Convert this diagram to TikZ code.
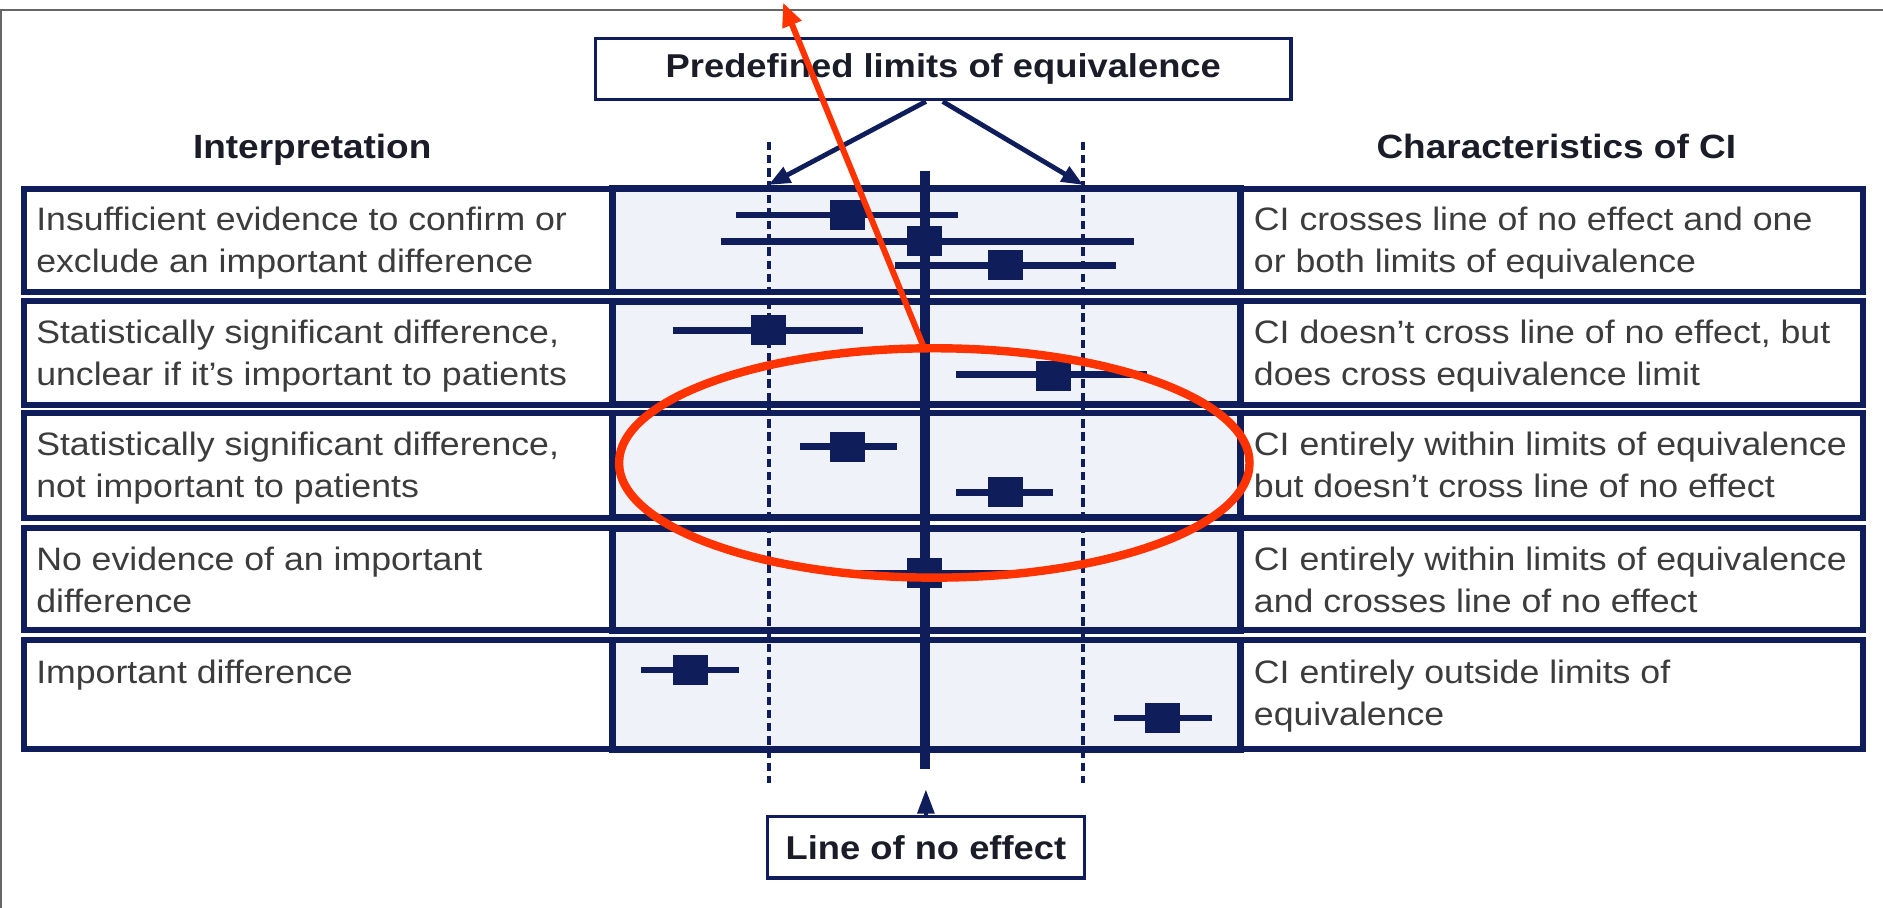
\documentclass[tikz,border=0pt]{standalone}
\usepackage{fontspec}
\setmainfont{Liberation Sans}[FakeStretch=1.1]
\usepackage{xcolor}
\usepackage{tikz}
\usetikzlibrary{arrows.meta}

\definecolor{navy}{RGB}{15,30,90}
\definecolor{lavender}{RGB}{240,242,250}
\definecolor{markred}{RGB}{255,51,0}
\definecolor{bodytext}{RGB}{60,60,60}
\definecolor{headtext}{RGB}{28,28,40}

\begin{document}
\begin{tikzpicture}[x=1pt,y=-1pt,
  cell/.style={draw=navy,line width=5pt,fill=white},
  plotcell/.style={draw=navy,line width=5.5pt,fill=lavender},
  rowtext/.style={anchor=base west,inner sep=0pt,align=left,text=bodytext,
    font=\fontsize{27}{35}\selectfont},
  head/.style={anchor=base,inner sep=0pt,text=headtext,font=\fontsize{28}{34}\selectfont\bfseries},
  labelbox/.style={draw=navy,line width=3pt,fill=white,inner sep=0pt,text=headtext,
    font=\fontsize{27.5}{34}\selectfont\bfseries},
  limit/.style={navy,line width=3.3pt,dash pattern=on 7pt off 4pt},
  ci/.style={draw=navy,line width=5.5pt},
  est/.style={fill=navy,minimum width=29pt,minimum height=25pt,inner sep=0pt},
  pointer/.style={navy,line width=4pt,-{Triangle[length=18pt,width=14pt]}}
]

\useasboundingbox (0,0) rectangle (1568,756);
\fill[white] (0,0) rectangle (1568,756);
\draw[gray!80!black,line width=1.5pt] (1,756) -- (1,8) -- (1568,8);

% column heads
\node[head] (interp) at (260,132) {Interpretation};
\node[head] (charci) at (1296,132) {Characteristics of CI};

% table rows
\draw[cell] (20,157) rectangle (510,243);
\draw[cell] (1033,157) rectangle (1551,243);
\draw[plotcell] (510,157) rectangle (1033,243);
\draw[cell] (20,251) rectangle (510,337);
\draw[cell] (1033,251) rectangle (1551,337);
\draw[plotcell] (510,251) rectangle (1033,337);
\draw[cell] (20,344) rectangle (510,431);
\draw[cell] (1033,344) rectangle (1551,431);
\draw[plotcell] (510,344) rectangle (1033,431);
\draw[cell] (20,440) rectangle (510,525);
\draw[cell] (1033,440) rectangle (1551,525);
\draw[plotcell] (510,440) rectangle (1033,525);
\draw[cell] (20,533) rectangle (510,624);
\draw[cell] (1033,533) rectangle (1551,624);
\draw[plotcell] (510,533) rectangle (1033,624);

% (anchor is the baseline of the last line)
\node[rowtext] (int1) at (30,227) {Insufficient evidence to confirm or\\exclude an important difference};
\node[rowtext] (int2) at (30,321) {Statistically significant difference,\\unclear if it's important to patients};
\node[rowtext] (int3) at (30,414) {Statistically significant difference,\\not important to patients};
\node[rowtext] (int4) at (30,510) {No evidence of an important\\difference};
\node[rowtext] (int5) at (30,569) {Important difference};

\node[rowtext] (ci1) at (1044,227) {CI crosses line of no effect and one\\or both limits of equivalence};
\node[rowtext] (ci2) at (1044,321) {CI doesn't cross line of no effect, but\\does cross equivalence limit};
\node[rowtext] (ci3) at (1044,414) {CI entirely within limits of equivalence\\but doesn't cross line of no effect};
\node[rowtext] (ci4) at (1044,510) {CI entirely within limits of equivalence\\and crosses line of no effect};
\node[rowtext] (ci5) at (1044,604) {CI entirely outside limits of\\equivalence};

% limits of equivalence and line of no effect
\coordinate (lowtop) at (640,118);
\coordinate (lowbot) at (640,652);
\coordinate (upptop) at (902,118);
\coordinate (uppbot) at (902,652);
\coordinate (lowend) at (640,154);
\coordinate (uppend) at (902,154);
\draw[limit] (lowtop) -- (lowbot);
\draw[limit] (upptop) -- (uppbot);
\draw[navy,line width=8pt] (770,142) -- (770,640);

\node[labelbox,minimum width=579pt,minimum height=51pt] (limits) at (785.5,57.5) {Predefined limits of equivalence};
\node[labelbox,minimum width=264pt,minimum height=51pt] (noeffect) at (771,705.5) {Line of no effect};

\draw[pointer] ([xshift=-14.5pt]limits.south) -- (lowend);
\draw[pointer] ([xshift=-0.5pt]limits.south) -- (uppend);
\draw[navy,line width=3pt,-{Triangle[length=20pt,width=14pt]}] (noeffect.north) -- ++(0,-21);

% confidence intervals
\draw[ci] (613,179) -- (798,179);
\draw[ci] (600,201) -- (944,201);
\draw[ci] (745,221) -- (929,221);
\draw[ci] (560,275) -- (719,275);
\draw[ci] (796,312) -- (955,312);
\draw[ci] (666,372) -- (747,372);
\draw[ci] (796,410) -- (877,410);
\draw[ci] (693,477) -- (851,477);
\draw[ci] (534,558) -- (615,558);
\draw[ci] (928,598) -- (1009,598);

\node[est] (e1a) at (706,179) {};
\node[est] (e1b) at (770,201) {};
\node[est] (e1c) at (837,221) {};
\node[est] (e2a) at (640,275) {};
\node[est] (e2b) at (877,313) {};
\node[est] (e3a) at (706,372) {};
\node[est] (e3b) at (837,410) {};
\node[est] (e4) at (770,477) {};
\node[est] (e5a) at (575,558) {};
\node[est] (e5b) at (968,598) {};

% red highlight
\coordinate (ringtop) at (770,291);
\coordinate (tip) at (652,2);
\draw[markred,line width=7pt] (778,385.5) ellipse [x radius=262.5,y radius=95.5];
\draw[markred,line width=5pt,-{Triangle[length=20pt,width=16pt]}] (ringtop) -- (tip);

\end{tikzpicture}
\end{document}
